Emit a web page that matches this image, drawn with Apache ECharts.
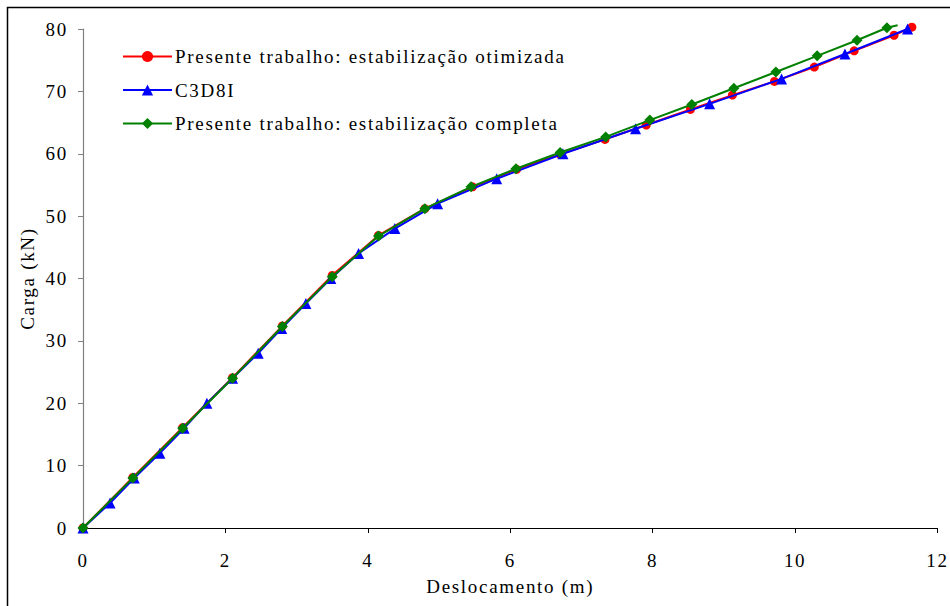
<!DOCTYPE html>
<html><head><meta charset="utf-8">
<script src="https://cdn.jsdelivr.net/npm/echarts@6/dist/echarts.min.js"></script>
<style>html,body{margin:0;padding:0;background:#fff}#c{width:950px;height:606px}#c text{letter-spacing:1.7px;font-family:"Liberation Serif",serif !important}</style>
</head><body><div id="c"></div>
<script>
const seriesNames = ['Presente trabalho: estabilização otimizada', 'C3D8I', 'Presente trabalho: estabilização completa'];
const redX = [0, 0.7, 1.4, 2.1, 2.8, 3.5, 4.15, 4.8, 5.47, 6.09, 6.7, 7.33, 7.91, 8.53, 9.12, 9.71, 10.27, 10.83, 11.39, 11.64];
const redY = [0, 8.1, 16.1, 24.1, 32.4, 40.5, 46.9, 51.2, 54.7, 57.5, 59.9, 62.3, 64.6, 67.1, 69.4, 71.6, 73.9, 76.5, 79.0, 80.3];
const blueX = [0, 0.38, 0.72, 1.08, 1.42, 1.74, 2.1, 2.46, 2.79, 3.13, 3.48, 3.87, 4.38, 4.98, 5.81, 6.74, 7.76, 8.8, 9.81, 10.70, 11.58];
const blueY = [0, 4, 8, 12, 16, 20, 24, 28, 32, 36, 40, 44, 48, 52, 56, 60, 64, 68, 72, 76, 80];
const greenX = [0, 0.7, 1.4, 2.1, 2.8, 3.5, 4.15, 4.8, 5.45, 6.08, 6.7, 7.34, 7.96, 8.55, 9.14, 9.73, 10.31, 10.87, 11.29, 11.44];
const greenY = [0, 8.0, 16.0, 24.0, 32.3, 40.3, 46.8, 51.2, 54.7, 57.6, 60.2, 62.7, 65.4, 67.9, 70.5, 73.1, 75.7, 78.2, 80.2, 80.6];
const xTicks = {min: 0, max: 12, interval: 2};
const yTicks = {min: 0, max: 80, interval: 10};

const FONT = '"Liberation Serif", serif';
const FS = 19;
function pairs(xs, ys) { return xs.map((x, i) => [x, ys[i]]); }
const greenData = pairs(greenX, greenY).map((p, i, a) => i === a.length - 1 ? {value: p, symbolSize: 0} : p);

const chart = echarts.init(document.getElementById('c'), null, {renderer: 'svg'});
chart.setOption({
  backgroundColor: '#fff',
  animation: false,
  textStyle: {fontFamily: FONT},
  graphic: [{type: 'rect', shape: {x: 7.5, y: 7.5, width: 950, height: 610}, style: {fill: 'none', stroke: '#000', lineWidth: 1.5}, silent: true}],
  grid: {left: 83, right: 12, top: 29, bottom: 78, containLabel: false},
  legend: {
    orient: 'vertical', left: 117, top: 42, itemWidth: 49, itemHeight: 14, itemGap: 14.5,
    textStyle: {fontFamily: FONT, fontSize: FS, color: '#000', padding: [0, 0, 0, -2]},
    data: seriesNames
  },
  xAxis: {
    type: 'value', min: xTicks.min, max: xTicks.max, interval: xTicks.interval,
    name: 'Deslocamento (m)', nameLocation: 'middle', nameGap: 49,
    nameTextStyle: {fontFamily: FONT, fontSize: FS, color: '#000'},
    axisLine: {show: true, onZero: false, lineStyle: {color: '#000', width: 1.2}},
    axisTick: {show: true, inside: false, length: 5, lineStyle: {color: '#000'}},
    axisLabel: {fontFamily: FONT, fontSize: FS, color: '#000', margin: 23},
    splitLine: {show: false}
  },
  yAxis: {
    type: 'value', min: yTicks.min, max: yTicks.max, interval: yTicks.interval,
    name: 'Carga (kN)', nameLocation: 'middle', nameGap: 46, nameRotate: 90,
    nameTextStyle: {fontFamily: FONT, fontSize: FS, color: '#000'},
    axisLine: {show: true, onZero: false, lineStyle: {color: '#808080', width: 1.2}},
    axisTick: {show: true, inside: false, length: 5, lineStyle: {color: '#808080'}},
    axisLabel: {fontFamily: FONT, fontSize: FS, color: '#000', margin: 15},
    splitLine: {show: false}
  },
  series: [
    {name: seriesNames[0], type: 'line', data: pairs(redX, redY), clip: false,
     symbol: 'circle', symbolSize: 9, itemStyle: {color: '#ff0000'}, lineStyle: {color: '#ff0000', width: 2}, z: 2},
    {name: seriesNames[1], type: 'line', data: pairs(blueX, blueY), clip: false,
     symbol: 'triangle', symbolSize: 11, itemStyle: {color: '#0000ff'}, lineStyle: {color: '#0000ff', width: 2}, z: 3},
    {name: seriesNames[2], type: 'line', data: greenData, clip: false,
     symbol: 'diamond', symbolSize: 11, itemStyle: {color: '#008000'}, lineStyle: {color: '#008000', width: 2}, z: 4}
  ]
});
</script></body></html>
